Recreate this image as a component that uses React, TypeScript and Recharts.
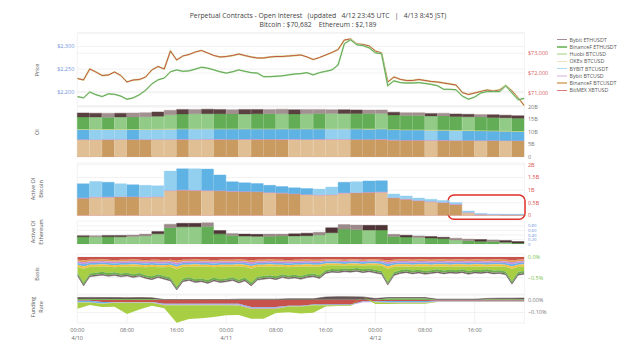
import React from "react";
import {
  ComposedChart,
  Bar,
  Area,
  Line,
  XAxis,
  YAxis,
  CartesianGrid,
  Cell,
  ReferenceArea,
} from "recharts";

// ---- time axis (hours since 4/10 00:00) ----
const X_TICKS = [0, 8, 16, 24, 32, 40, 48, 56, 64];
const X_TIME_LABELS = ["00:00", "08:00", "16:00", "00:00", "08:00", "16:00", "00:00", "08:00", "16:00"];
const X_DATE_LABELS = ["4/10", "", "", "4/11", "", "", "4/12", "", ""];

const TITLE = "Perpetual Contracts - Open Interest   (updated   4/12 23:45 UTC   |   4/13 8:45 JST)";
const SUBTITLE = "Bitcoin : $70,682    Ethereum : $2,189";

const LEGEND_NAMES = [
  "Bybit ETHUSDT",
  "BinanceF ETHUSDT",
  "Huobi BTCUSD",
  "OKEx BTCUSD",
  "BYBIT BTCUSDT",
  "Bybit BTCUSD",
  "BinanceF BTCUSDT",
  "BitMEX XBTUSD",
];
const LEGEND_COLORS = ["#a38e9b", "#86c47a", "#cfe8c0", "#f0e2c0", "#a9dcf3", "#ead8f0", "#dfbb8a", "#e07b7b"];

// ---- prices, hourly ----
const ETH_PRICE = [
  2189, 2186, 2199, 2193, 2189, 2195, 2194, 2190, 2183, 2186,
  2193, 2203, 2217, 2226, 2230, 2244, 2248, 2245, 2246, 2250,
  2254, 2252, 2248, 2244, 2241, 2244, 2248, 2245, 2242, 2241,
  2233, 2233, 2234, 2235, 2237, 2239, 2240, 2242, 2237, 2242,
  2245, 2248, 2259, 2306, 2315, 2304, 2302, 2297, 2286, 2284,
  2213, 2224, 2220, 2219, 2219, 2220, 2218, 2216, 2213, 2205,
  2205, 2204, 2190, 2183, 2188, 2197, 2200, 2200, 2200, 2213,
  2197, 2182, 2185,
];
const BTC_PRICE = [
  71721, 71645, 72203, 72051, 71873, 71898, 72051, 71873, 71543, 71645,
  71670, 71797, 72152, 72330, 72203, 73117, 72660, 72863, 72939, 73066,
  73142, 73015, 72888, 72812, 72838, 72888, 72964, 72888, 72812, 72761,
  72761, 72812, 72838, 72838, 72863, 72888, 72914, 72812, 72685, 72787,
  72914, 73041, 73193, 73675, 73726, 73472, 73447, 73371, 73117, 73015,
  71543, 71797, 71680, 71619, 71619, 71670, 71619, 71569, 71543, 71492,
  71442, 71391, 71010, 70909, 70985, 71061, 71137, 71086, 71137, 71365,
  71086, 70731, 70340,
];
const ETH_TICKS = [2200, 2250, 2300];
const BTC_TICKS = [71000, 72000, 73000];

// ---- open interest (B USD), 2-hour buckets ----
const OI_BITMEX = [
  0.1, 0.1, 0.1, 0.1, 0.1, 0.1, 0.1, 0.1, 0.1, 0.1, 0.1, 0.1,
  0.1, 0.1, 0.1, 0.1, 0.1, 0.1, 0.1, 0.1, 0.1, 0.1, 0.1, 0.1,
  0.1, 0.1, 0.1, 0.1, 0.1, 0.1, 0.1, 0.1, 0.1, 0.1, 0.1, 0.1,
];
const OI_BINANCE_BTC = [
  6.85, 6.8, 6.85, 6.9, 6.85, 6.85, 6.9, 6.9, 6.95, 6.9, 6.95, 6.95,
  6.9, 6.95, 6.95, 7.0, 6.95, 6.95, 6.9, 6.95, 6.95, 6.95, 6.9, 6.9,
  6.95, 6.65, 6.6, 6.6, 6.55, 6.55, 6.5, 6.5, 6.45, 6.45, 6.4, 6.35,
];
const OI_BYBIT_BTCUSD = [
  0.15, 0.15, 0.15, 0.15, 0.15, 0.15, 0.15, 0.15, 0.15, 0.15, 0.15, 0.15,
  0.15, 0.15, 0.15, 0.15, 0.15, 0.15, 0.15, 0.15, 0.15, 0.15, 0.15, 0.15,
  0.15, 0.15, 0.15, 0.15, 0.15, 0.15, 0.15, 0.15, 0.15, 0.15, 0.15, 0.15,
];
const OI_BYBIT_BTCUSDT = [
  3.9, 3.95, 3.9, 3.85, 3.9, 3.9, 3.95, 4.0, 4.0, 4.05, 4.0, 4.0,
  4.05, 4.0, 4.0, 3.95, 4.0, 4.0, 4.05, 4.0, 4.0, 4.0, 4.05, 4.0,
  4.0, 4.0, 3.95, 3.95, 3.9, 3.9, 3.85, 3.8, 3.75, 3.7, 3.65, 3.6,
];
const OI_OKEX = [
  0.15, 0.15, 0.15, 0.15, 0.15, 0.15, 0.15, 0.15, 0.15, 0.15, 0.15, 0.15,
  0.15, 0.15, 0.15, 0.15, 0.15, 0.15, 0.15, 0.15, 0.15, 0.15, 0.15, 0.15,
  0.15, 0.15, 0.15, 0.15, 0.15, 0.15, 0.15, 0.15, 0.15, 0.15, 0.15, 0.15,
];
const OI_HUOBI = [
  0.1, 0.1, 0.1, 0.1, 0.1, 0.1, 0.1, 0.1, 0.1, 0.1, 0.1, 0.1,
  0.1, 0.1, 0.1, 0.1, 0.1, 0.1, 0.1, 0.1, 0.1, 0.1, 0.1, 0.1,
  0.1, 0.1, 0.1, 0.1, 0.1, 0.1, 0.1, 0.1, 0.1, 0.1, 0.1, 0.1,
];
const OI_BINANCE_ETH = [
  4.8, 4.8, 4.7, 4.8, 4.8, 4.9, 5.0, 5.5, 5.8, 5.9, 5.9, 5.9,
  5.8, 5.8, 5.9, 5.9, 5.9, 5.8, 5.9, 6.0, 6.0, 6.0, 6.0, 6.0,
  6.0, 5.7, 5.6, 5.6, 5.5, 5.5, 5.4, 5.3, 5.3, 5.2, 5.2, 5.1,
];
const OI_BYBIT_ETH = [
  1.6, 1.5, 1.6, 1.5, 1.6, 1.6, 1.7, 1.8, 1.8, 1.7, 1.8, 1.7,
  1.7, 1.8, 1.7, 1.7, 1.8, 1.7, 1.7, 1.6, 1.5, 1.5, 1.4, 1.4,
  1.4, 1.1, 1.1, 1.1, 1.0, 1.1, 1.0, 1.0, 1.0, 1.1, 1.0, 1.0,
];
const OI_TICKS = [0, 5, 10, 15, 20];

// ---- active OI, Bitcoin (B USD), 2-hour buckets ----
const ACT_BTC_BITMEX = [
  0.01, 0.01, 0.01, 0.01, 0.01, 0.01, 0.01, 0.01, 0.01, 0.01, 0.01, 0.01,
  0.01, 0.01, 0.01, 0.01, 0.01, 0.01, 0.01, 0.01, 0.01, 0.01, 0.01, 0.01,
  0.01, 0.01, 0.01, 0.01, 0.01, 0.01, 0.01, 0.01, 0.01, 0.01, 0.01, 0.01,
];
const ACT_BTC_BINANCE = [
  0.67, 0.71, 0.71, 0.72, 0.72, 0.71, 0.72, 0.97, 0.99, 0.98, 0.97, 0.96,
  0.94, 0.93, 0.92, 0.89, 0.87, 0.84, 0.81, 0.79, 0.8, 0.87, 0.88, 0.9,
  0.91, 0.68, 0.63, 0.57, 0.53, 0.49, 0.42, 0.1, 0.03, 0.02, 0.015, 0.015,
];
const ACT_BTC_BYBIT_USD = [
  0.02, 0.02, 0.02, 0.02, 0.02, 0.02, 0.02, 0.02, 0.02, 0.02, 0.02, 0.02,
  0.02, 0.02, 0.02, 0.02, 0.02, 0.02, 0.02, 0.02, 0.02, 0.02, 0.02, 0.02,
  0.02, 0.02, 0.02, 0.02, 0.02, 0.02, 0.02, 0.02, 0.01, 0.01, 0.01, 0.01,
];
const ACT_BTC_BYBIT_USDT = [
  0.55, 0.6, 0.57, 0.5, 0.46, 0.45, 0.42, 0.75, 0.82, 0.83, 0.83, 0.61,
  0.36, 0.33, 0.31, 0.27, 0.24, 0.22, 0.22, 0.22, 0.29, 0.41, 0.42, 0.43,
  0.43, 0.14, 0.11, 0.09, 0.08, 0.07, 0.06, 0.05, 0.03, 0.02, 0.02, 0.02,
];
const ACT_BTC_TICKS = [0, 0.5, 1, 1.5, 2];

// ---- active OI, Ethereum (B USD), 2-hour buckets ----
const ACT_ETH_BINANCE = [
  0.32, 0.32, 0.32, 0.32, 0.33, 0.36, 0.45, 0.72, 0.76, 0.77, 0.78, 0.45,
  0.38, 0.35, 0.34, 0.34, 0.35, 0.36, 0.37, 0.4, 0.5, 0.66, 0.63, 0.62,
  0.62, 0.33, 0.31, 0.29, 0.27, 0.24, 0.18, 0.14, 0.12, 0.11, 0.08, 0.04,
];
const ACT_ETH_BYBIT = [
  0.05, 0.05, 0.06, 0.06, 0.07, 0.08, 0.1, 0.16, 0.16, 0.15, 0.16, 0.15,
  0.09, 0.09, 0.09, 0.1, 0.09, 0.09, 0.11, 0.12, 0.22, 0.2, 0.21, 0.21,
  0.21, 0.1, 0.08, 0.07, 0.06, 0.06, 0.08, 0.08, 0.08, 0.07, 0.07, 0.07,
];
const ACT_ETH_TICKS = [0, 0.2, 0.4, 0.6, 0.8];

// ---- basis depth below zero (units of 0.01 %), hourly ----
const BASIS_BITMEX = [
  7, 8, 7, 7, 6, 7, 8, 7, 7, 6, 7, 8, 7, 7, 8, 7, 9, 7, 7, 6,
  7, 7, 8, 7, 7, 7, 6, 7, 8, 7, 7, 6, 7, 7, 8, 7, 7, 6, 7, 7,
  6, 6, 6, 7, 6, 6, 7, 6, 6, 7, 8, 7, 6, 6, 7, 6, 6, 7, 6, 6,
  7, 6, 6, 7, 6, 6, 7, 6, 6, 7, 8, 7, 6,
];
const BASIS_BINANCE_BTC = [
  4, 5, 4, 4, 4, 4, 4, 4, 4, 4, 4, 4, 4, 5, 4, 4, 5, 4, 4, 4,
  4, 4, 4, 4, 4, 4, 4, 4, 5, 4, 4, 4, 4, 4, 4, 4, 4, 4, 4, 4,
  3, 3, 3, 3, 3, 3, 3, 3, 3, 3, 5, 4, 4, 4, 4, 4, 4, 4, 4, 4,
  4, 4, 4, 4, 4, 4, 4, 4, 4, 4, 5, 4, 4,
];
const BASIS_BYBIT_BTCUSD = [
  4, 5, 4, 4, 4, 4, 4, 4, 4, 4, 4, 4, 4, 4, 4, 4, 5, 4, 4, 4,
  4, 4, 4, 4, 4, 4, 4, 4, 5, 4, 4, 4, 4, 4, 4, 4, 4, 4, 4, 4,
  3, 3, 3, 3, 3, 3, 3, 3, 3, 3, 5, 4, 4, 4, 4, 4, 4, 4, 4, 4,
  4, 4, 4, 4, 4, 4, 4, 4, 4, 4, 5, 4, 4,
];
const BASIS_BYBIT_BTCUSDT = [
  4, 5, 4, 4, 4, 4, 4, 4, 4, 4, 4, 4, 4, 4, 4, 4, 5, 4, 4, 4,
  4, 4, 4, 4, 4, 4, 4, 4, 4, 4, 4, 4, 4, 4, 4, 4, 4, 4, 4, 4,
  4, 4, 4, 4, 4, 4, 4, 4, 4, 4, 5, 4, 4, 4, 4, 4, 4, 4, 4, 4,
  4, 4, 4, 4, 4, 4, 4, 4, 4, 4, 5, 4, 4,
];
const BASIS_OKEX = [
  5, 6, 5, 5, 5, 5, 5, 5, 5, 5, 5, 5, 5, 5, 5, 5, 6, 5, 5, 5,
  5, 5, 5, 5, 5, 5, 5, 5, 6, 5, 5, 5, 5, 5, 5, 5, 5, 5, 5, 5,
  4, 4, 4, 4, 4, 4, 4, 4, 4, 4, 6, 5, 5, 5, 5, 5, 5, 5, 5, 5,
  5, 5, 5, 5, 5, 5, 5, 5, 5, 5, 6, 5, 5,
];
const BASIS_HUOBI = [
  13, 33, 16, 14, 13, 15, 12, 16, 14, 19, 15, 19, 23, 17, 21, 26, 42, 28, 25, 31,
  28, 32, 25, 30, 28, 25, 32, 26, 34, 24, 22, 21, 23, 18, 20, 19, 22, 19, 16, 20,
  12, 9, 10, 7, 9, 7, 9, 8, 11, 13, 31, 13, 9, 7, 9, 8, 11, 8, 7, 10,
  7, 9, 7, 10, 8, 9, 6, 10, 9, 11, 29, 12, 11,
];
const BASIS_BINANCE_ETH = [
  5, 5, 5, 5, 5, 5, 5, 5, 5, 5, 5, 5, 5, 5, 5, 5, 5, 5, 5, 5,
  5, 5, 5, 5, 5, 5, 5, 5, 5, 5, 5, 5, 5, 5, 5, 5, 5, 5, 5, 5,
  5, 5, 5, 5, 5, 5, 5, 5, 5, 5, 5, 5, 5, 5, 5, 5, 5, 5, 5, 5,
  5, 5, 5, 5, 5, 5, 5, 5, 5, 5, 5, 5, 5,
];
const BASIS_BYBIT_ETH = [
  3, 3, 3, 3, 3, 3, 3, 3, 3, 3, 3, 3, 3, 3, 3, 3, 3, 3, 3, 3,
  3, 3, 3, 3, 3, 3, 3, 3, 3, 3, 3, 3, 3, 3, 3, 3, 3, 3, 3, 3,
  3, 3, 3, 3, 3, 3, 3, 3, 3, 3, 3, 3, 3, 3, 3, 3, 3, 3, 3, 3,
  3, 3, 3, 3, 3, 3, 3, 3, 3, 3, 3, 3, 3,
];
const BASIS_TICKS = [-50, 0];

// ---- funding rate (units of 0.01 %), 2-hour steps ----
const FUND_BINANCE_ETH = [
  0.8, 0.8, 0.8, 0.8, 0.8, 0.8, 0.8, 0.2, 0.2, 0.2, 0.2, 0.2, 0.2,
  0.2, 0.2, 0.2, 0.2, 0.2, 0.2, 0.2, 0.2, 0.2, 0.2, 0.2, 0.2,
  1.5, 1.5, 1.5, 1.5, 0.3, 0.3, 0.3, 0.3, 0.7, 0.7, 0.7, 0.7,
];
const FUND_BYBIT_ETH = [
  1.2, 1.3, 1.2, 1.2, 1.1, 1.2, 1.0, 0.2, 0.2, 0.2, 0.2, 0.2, 0.2,
  0.5, 0.5, 0.5, 0.5, 0.8, 0.8, 0.8, 2.2, 2.5, 2.4, 2.3, 1.0,
  0.5, 0.5, 0.5, 0.5, 0.4, 0.4, 0.4, 0.4, 0.6, 0.8, 0.8, 0.9,
];
const FUND_BITMEX = [
  -0.5, -0.5, -1.5, -1.5, -1.5, -1.5, -1.5, -3, -3, -3, -3, -3, -3,
  -3, -5.5, -5.5, -5.5, -4.5, -4.5, -3.5, -3.5, -3.5, -3.5, -1, -1,
  -0.8, -0.8, -0.8, -0.8, -0.5, -0.5, -0.5, -0.5, -0.5, -0.5, -0.5, -0.5,
];
const FUND_BYBIT_BTCUSDT = [
  -1.2, -1.2, -1.2, -0.3, -0.3, -0.3, -0.3, -0.6, -0.6, -0.6, -0.6, -0.6, -0.6,
  -0.6, -0.6, -0.6, -0.6, -0.4, -0.4, -0.4, -0.4, -0.4, -0.4, -0.4, -0.4,
  -1.0, -1.0, -1.0, -1.0, -0.5, -0.5, -0.5, -0.5, -0.5, -0.5, -0.5, -0.5,
];
const FUND_BYBIT_BTCUSD = [
  -0.3, -0.3, -0.3, -0.3, -0.3, -0.3, -0.3, -0.5, -0.5, -0.5, -0.5, -0.5, -0.5,
  -0.8, -0.8, -0.8, -0.8, -0.3, -0.3, -0.3, -0.3, -0.3, -0.3, -0.3, -0.3,
  -0.3, -0.3, -0.3, -0.3, -0.3, -0.3, -0.3, -0.3, -0.3, -0.3, -0.3, -0.3,
];
const FUND_HUOBI = [
  -5, -2, -2.5, -3.2, -9, -5.5, -2.5, -2.5, -14, -11, -10.5, -9.5, -8,
  -7.5, -8, -8, -3.5, -4.5, -5.5, -6, -1, -0.5, -0.5, 0, -1.5,
  -1, -0.8, -0.8, -0.8, -0.3, -0.3, -0.3, -0.3, -0.3, -0.3, -0.3, -0.3,
];
const FUND_TICKS = [-10, 0];

// ---- styling ----
const OI_SHADE_BIN_BTC = "LLDLDDLLDLLDDLDDDLLLLLDDDDDDLDDDLDLD";
const OI_SHADE_BYBIT_USDT = "DLLLDLLLDLLDDDDDDDDDLLDDDDDDLDLDDDDD";
const OI_SHADE_BIN_ETH = "DLDLDLLLDLLDDLDDLDLDLLDDLDDDLDDLDDLD";
const OI_SHADE_BYBIT_ETH = "DDLDLLDLDLDDLDDLLDLLLDDLLDLLDLDDLDDD";
const ACT_SHADE_BIN_BTC = "DLLDDLLLDDLDDDDLDDLLLLDDLDDDLDDLDLDD";
const ACT_SHADE_BYBIT_USDT = "DLDLDLLLDLDDDDDDDDDLLDLDDLLLLLLLLLLL";
const ACT_SHADE_BIN_ETH = "DLDLLLLDLLDDDLLDDLLLLDDLDDDLDDLDDDLD";
const ACT_SHADE_BYBIT_ETH = "DLDDLLDLDDLDLDDLLDDLDLLDDLDLDDLLDLDD";

const TAN = { light: "#e0bf94", dark: "#c99b60" };
const BLUE = { light: "#93d0f0", dark: "#5fb2e4" };
const GREEN = { light: "#92cb87", dark: "#62ad55" };
const BROWN = { light: "#a28f90", dark: "#5b4042" };

const PLOT_LEFT = 77.3;
const PLOT_RIGHT = 524.4;
const W = 640;
const AXIS_W = 40;
const FONT = "'Open Sans', 'DejaVu Sans', sans-serif";
const GRID = "#ececec";

// ---- tables ----
const priceData = ETH_PRICE.map((eth, i) => ({ t: i, eth, btc: BTC_PRICE[i] }));
const oiData = OI_BITMEX.map((v, i) => ({
  t: 2 * i + 1,
  bitmex: v,
  binBtc: OI_BINANCE_BTC[i],
  bybitUsd: OI_BYBIT_BTCUSD[i],
  bybitUsdt: OI_BYBIT_BTCUSDT[i],
  okex: OI_OKEX[i],
  huobi: OI_HUOBI[i],
  binEth: OI_BINANCE_ETH[i],
  bybitEth: OI_BYBIT_ETH[i],
}));
const actBtcData = ACT_BTC_BITMEX.map((v, i) => ({
  t: 2 * i + 1,
  bitmex: v,
  binBtc: ACT_BTC_BINANCE[i],
  bybitUsd: ACT_BTC_BYBIT_USD[i],
  bybitUsdt: ACT_BTC_BYBIT_USDT[i],
}));
const actEthData = ACT_ETH_BINANCE.map((v, i) => ({ t: 2 * i + 1, binEth: v, bybitEth: ACT_ETH_BYBIT[i] }));
const basisData = BASIS_BITMEX.map((v, i) => ({
  t: i,
  bitmex: -v,
  binBtc: -BASIS_BINANCE_BTC[i],
  bybitUsd: -BASIS_BYBIT_BTCUSD[i],
  bybitUsdt: -BASIS_BYBIT_BTCUSDT[i],
  okex: -BASIS_OKEX[i],
  huobi: -BASIS_HUOBI[i],
  binEth: -BASIS_BINANCE_ETH[i],
  bybitEth: -BASIS_BYBIT_ETH[i],
}));
const fundData = FUND_BITMEX.map((v, i) => ({
  t: 2 * i,
  binEth: FUND_BINANCE_ETH[i],
  bybitEth: FUND_BYBIT_ETH[i],
  bitmex: v,
  bybitUsdt: FUND_BYBIT_BTCUSDT[i],
  bybitUsd: FUND_BYBIT_BTCUSD[i],
  huobi: FUND_HUOBI[i],
}));

const margin = (leftAxis = 0) => ({ top: 6, bottom: 6, left: PLOT_LEFT - leftAxis, right: W - PLOT_RIGHT - AXIS_W });

// numeric time axis, used for lines/areas and for the grid
const timeX = (id: string | number = 0) => (
  <XAxis xAxisId={id} type="number" dataKey="t" domain={[0, 72]} ticks={X_TICKS} interval={0} height={0}
    tick={false} tickLine={false} axisLine={false} allowDataOverflow />
);
// band axis for the 2-hour bars
const bandX = () => <XAxis xAxisId="c" type="category" dataKey="t" hide />;

const rightAxis = (domain: number[], ticks: number[], fmt: (v: number) => string, color: string, id?: string, size = 5.5) => (
  <YAxis yAxisId={id ?? 0} orientation="right" width={AXIS_W} domain={domain} ticks={ticks} interval={0}
    tickFormatter={fmt} allowDataOverflow axisLine={false} tickLine={false} tickSize={0} tickMargin={3.5}
    tick={{ fontSize: size, fill: color }} />
);

const shadedBar = (key: string, pattern: string, shade: { light: string; dark: string }) => (
  <Bar xAxisId="c" dataKey={key} stackId="s" isAnimationActive={false}>
    {pattern.split("").map((c, i) => {
      const col = c === "L" ? shade.light : shade.dark;
      return <Cell key={i} fill={col} stroke={col} strokeWidth={0.4} />;
    })}
  </Bar>
);

const plainBar = (key: string, color: string) => (
  <Bar xAxisId="c" dataKey={key} stackId="s" fill={color} stroke={color} strokeWidth={0.4} isAnimationActive={false} />
);

const stackArea = (key: string, color: string, stroke = "none", sw = 0.5) => (
  <Area type="linear" dataKey={key} stackId="s" stroke={stroke} strokeWidth={sw} fill={color}
    fillOpacity={1} isAnimationActive={false} />
);

function TimeTick(props: any) {
  const { x, y, payload } = props;
  const i = X_TICKS.indexOf(payload.value);
  return (
    <text x={x} y={y} textAnchor="middle" fill="#666" fontSize={5.5}>
      <tspan x={x} dy="0.71em">{X_TIME_LABELS[i]}</tspan>
      {X_DATE_LABELS[i] ? <tspan x={x} dy={8}>{X_DATE_LABELS[i]}</tspan> : null}
    </text>
  );
}

const money = (v: number) => `$${v.toLocaleString("en-US")}`;
const billions = (v: number) => (v === 0 ? "0" : `${v}B`);
const pct = (digits: number) => (v: number) => `${v < 0 ? "\u2212" : ""}${(Math.abs(v) / 100).toFixed(digits)}%`;

const Y_TITLES = [
  { lines: ["Price"], y: 70 },
  { lines: ["OI"], y: 132 },
  { lines: ["Active OI", "Bitcoin"], y: 189 },
  { lines: ["Active OI", "Ethereum"], y: 232 },
  { lines: ["Basis"], y: 274 },
  { lines: ["Funding", "Rate"], y: 307 },
];

export default function App() {
  const abs = (top: number): React.CSSProperties => ({ position: "absolute", left: 0, top });
  return (
    <div style={{ position: "absolute", left: 0, top: 0, width: W, height: 359, background: "#fff", fontFamily: FONT, overflow: "hidden" }}>
      <div style={{ position: "absolute", left: -2, top: 11, width: W, textAlign: "center", fontSize: 6.8, lineHeight: "9px", color: "#444", whiteSpace: "pre" }}>
        <div style={{ color: "#444" }}>{TITLE}</div>
        <div style={{ color: "#444" }}>{SUBTITLE}</div>
      </div>

      <div style={{ position: "absolute", left: 557, top: 36 }}>
        {LEGEND_NAMES.map((name, i) => (
          <div key={name} style={{ display: "flex", alignItems: "center", height: 7.25, fontSize: 5.3, color: "#555", whiteSpace: "nowrap" }}>
            <span style={{ display: "inline-block", width: 10, height: 1.6, background: LEGEND_COLORS[i], marginRight: 2.5 }} />
            {name}
          </div>
        ))}
      </div>

      <svg width={W} height={359} style={{ position: "absolute", left: 0, top: 0 }}>
        {Y_TITLES.map((t) => (
          <text key={t.lines.join()} transform={`translate(${t.lines.length > 1 ? 35 : 39},${t.y}) rotate(-90)`}
            textAnchor="middle" fontSize={5.5} fill="#555">
            {t.lines.map((l, j) => (
              <tspan key={l} x={0} dy={j === 0 ? 0 : 7.5}>{l}</tspan>
            ))}
          </text>
        ))}
      </svg>

      {/* Price */}
      <div style={abs(27)}>
        <ComposedChart width={W} height={85} data={priceData} margin={margin(30)}>
          <CartesianGrid yAxisId="r" stroke={GRID} strokeWidth={0.7} />
          <CartesianGrid yAxisId="l" vertical={false} stroke={GRID} strokeWidth={0.7} />
          {timeX()}
          <YAxis yAxisId="l" orientation="left" width={30} domain={[2168, 2330]} ticks={ETH_TICKS} interval={0}
            tickFormatter={money} allowDataOverflow axisLine={false} tickLine={false} tickSize={0} tickMargin={3}
            tick={{ fontSize: 5.5, fill: "#7393dc" }} />
          {rightAxis([70325, 74030], BTC_TICKS, money, "#d6625c", "r")}
          <Line yAxisId="r" dataKey="btc" stroke="#d4d88c" strokeWidth={1.8} dot={false} isAnimationActive={false} />
          <Line yAxisId="r" dataKey="btc" stroke="#c2473f" strokeWidth={0.9} dot={false} isAnimationActive={false} />
          <Line yAxisId="l" dataKey="eth" stroke="#c2e2b4" strokeWidth={1.8} dot={false} isAnimationActive={false} />
          <Line yAxisId="l" dataKey="eth" stroke="#55a04a" strokeWidth={0.9} dot={false} isAnimationActive={false} />
        </ComposedChart>
      </div>

      {/* OI */}
      <div style={abs(101.3)}>
        <ComposedChart width={W} height={62} data={oiData} margin={margin()} barCategoryGap={0} barGap={0}>
          {timeX("n")}
          {bandX()}
          <CartesianGrid xAxisId="n" stroke={GRID} strokeWidth={0.7} />
          {rightAxis([0, 20], OI_TICKS, billions, "#777")}
          {plainBar("bitmex", "#d4605a")}
          {shadedBar("binBtc", OI_SHADE_BIN_BTC, TAN)}
          {plainBar("bybitUsd", "#d492d6")}
          {shadedBar("bybitUsdt", OI_SHADE_BYBIT_USDT, BLUE)}
          {plainBar("okex", "#e6cf6e")}
          {plainBar("huobi", "#c5e3a0")}
          {shadedBar("binEth", OI_SHADE_BIN_ETH, GREEN)}
          {shadedBar("bybitEth", OI_SHADE_BYBIT_ETH, BROWN)}
        </ComposedChart>
      </div>

      {/* Active OI Bitcoin */}
      <div style={abs(157)}>
        <ComposedChart width={W} height={64.5} data={actBtcData} margin={margin()} barCategoryGap={0} barGap={0}>
          {timeX("n")}
          {bandX()}
          <CartesianGrid xAxisId="n" stroke={GRID} strokeWidth={0.7} />
          {rightAxis([0, 2.07], ACT_BTC_TICKS, billions, "#d9534f")}
          {plainBar("bitmex", "#d4605a")}
          {shadedBar("binBtc", ACT_SHADE_BIN_BTC, TAN)}
          {plainBar("bybitUsd", "#d492d6")}
          {shadedBar("bybitUsdt", ACT_SHADE_BYBIT_USDT, BLUE)}
          <ReferenceArea xAxisId="n" x1={59.7} x2={72.1} y1={-0.15} y2={0.81} ifOverflow="visible"
            shape={(p: any) => (
              <rect x={p.x} y={p.y} width={p.width} height={p.height} rx={6} ry={6}
                fill="none" stroke="#e0302a" strokeWidth={1.5} />
            )} />
        </ComposedChart>
      </div>

      {/* Active OI Ethereum */}
      <div style={abs(215)}>
        <ComposedChart width={W} height={35} data={actEthData} margin={margin()} barCategoryGap={0} barGap={0}>
          {timeX("n")}
          {bandX()}
          <CartesianGrid xAxisId="n" stroke={GRID} strokeWidth={0.7} />
          {rightAxis([0, 1.02], ACT_ETH_TICKS, (v) => (v === 0 ? "0" : v.toFixed(2)), "#6a8ad8", undefined, 4.3)}
          {shadedBar("binEth", ACT_SHADE_BIN_ETH, GREEN)}
          {shadedBar("bybitEth", ACT_SHADE_BYBIT_ETH, { light: "#9c8a8a", dark: "#4e3436" })}
        </ComposedChart>
      </div>

      {/* Basis */}
      <div style={abs(248)}>
        <ComposedChart width={W} height={52.2} data={basisData} margin={margin()}>
          <CartesianGrid stroke={GRID} strokeWidth={0.7} />
          {timeX()}
          {rightAxis([-90, 7], BASIS_TICKS, pct(1), "#7cbf4e")}
          {stackArea("bitmex", "#c8524c")}
          {stackArea("binBtc", "#e39d55")}
          {stackArea("bybitUsd", "#c990da")}
          {stackArea("bybitUsdt", "#6ab2e8")}
          {stackArea("okex", "#efc245")}
          {stackArea("huobi", "#a8cf44")}
          {stackArea("binEth", "#6bb04a")}
          {stackArea("bybitEth", "#7a6868", "#5c4c4c", 0.4)}
        </ComposedChart>
      </div>

      {/* Funding Rate */}
      <div style={abs(289)}>
        <ComposedChart width={W} height={56} data={fundData} margin={{ ...margin(), bottom: 0 }} stackOffset="sign">
          <CartesianGrid stroke={GRID} strokeWidth={0.7} />
          <XAxis type="number" dataKey="t" domain={[0, 72]} ticks={X_TICKS} interval={0} height={22}
            tick={(p: any) => <TimeTick {...p} />} tickLine={false} axisLine={false} tickSize={0} tickMargin={5}
            allowDataOverflow />
          {rightAxis([-18.4, 4], FUND_TICKS, pct(2), "#777")}
          {stackArea("binEth", "#7ab85a")}
          {stackArea("bybitEth", "#6a5656", "#4a3b3b", 0.5)}
          {stackArea("bitmex", "#c8524c")}
          {stackArea("bybitUsdt", "#6ab2e8")}
          {stackArea("bybitUsd", "#c990da")}
          {stackArea("huobi", "#a8cf44")}
        </ComposedChart>
      </div>
    </div>
  );
}
